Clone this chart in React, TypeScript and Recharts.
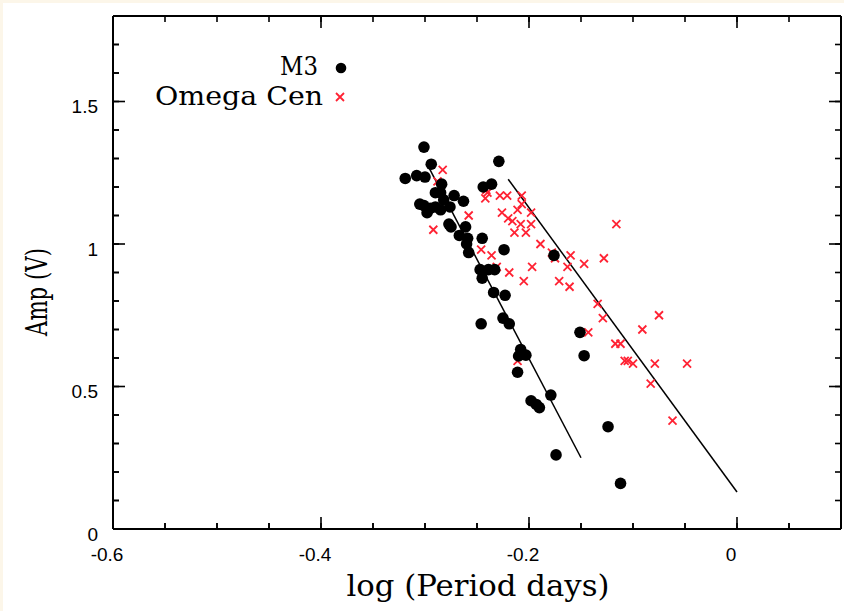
import { ScatterChart, Scatter, XAxis, YAxis, ReferenceLine } from "recharts";

// log(P), amplitude
const m3Points: [number, number][] = [
  [-0.319, 1.23], [-0.308, 1.24], [-0.301, 1.34], [-0.3, 1.235], [-0.294, 1.28],
  [-0.284, 1.21], [-0.29, 1.18], [-0.285, 1.18], [-0.272, 1.17], [-0.282, 1.155],
  [-0.263, 1.15], [-0.305, 1.14], [-0.301, 1.135], [-0.295, 1.125], [-0.29, 1.13],
  [-0.285, 1.12], [-0.298, 1.11], [-0.276, 1.13], [-0.277, 1.07], [-0.275, 1.06],
  [-0.261, 1.06], [-0.267, 1.03], [-0.259, 1.02], [-0.26, 1.0], [-0.258, 0.97],
  [-0.245, 1.02], [-0.224, 0.98], [-0.229, 1.29], [-0.244, 1.2], [-0.236, 1.21],
  [-0.247, 0.91], [-0.239, 0.91], [-0.233, 0.91], [-0.245, 0.88], [-0.234, 0.83],
  [-0.223, 0.82], [-0.246, 0.72], [-0.225, 0.74], [-0.219, 0.72], [-0.208, 0.63],
  [-0.203, 0.61], [-0.21, 0.607], [-0.211, 0.55], [-0.198, 0.45], [-0.193, 0.437],
  [-0.19, 0.426], [-0.179, 0.47], [-0.176, 0.96], [-0.174, 0.26], [-0.151, 0.69],
  [-0.147, 0.608], [-0.124, 0.359], [-0.112, 0.16],
];

const omegaPoints: [number, number][] = [
  [-0.283, 1.26], [-0.288, 1.22], [-0.292, 1.05], [-0.258, 1.1], [-0.241, 1.19],
  [-0.24, 1.18], [-0.242, 1.16], [-0.228, 1.17], [-0.221, 1.17], [-0.207, 1.17],
  [-0.207, 1.14], [-0.211, 1.12], [-0.198, 1.11], [-0.226, 1.11], [-0.22, 1.09],
  [-0.216, 1.08], [-0.208, 1.07], [-0.198, 1.07], [-0.214, 1.04], [-0.203, 1.04],
  [-0.116, 1.07], [-0.189, 1.0], [-0.246, 0.98], [-0.236, 0.96], [-0.231, 0.92],
  [-0.219, 0.9], [-0.205, 0.87], [-0.197, 0.92], [-0.178, 0.97], [-0.175, 0.95],
  [-0.16, 0.96], [-0.163, 0.92], [-0.147, 0.93], [-0.128, 0.95], [-0.171, 0.87],
  [-0.161, 0.85], [-0.134, 0.79], [-0.129, 0.74], [-0.143, 0.69], [-0.075, 0.75],
  [-0.091, 0.7], [-0.117, 0.65], [-0.112, 0.65], [-0.108, 0.59], [-0.105, 0.59],
  [-0.1, 0.58], [-0.079, 0.58], [-0.048, 0.58], [-0.083, 0.51], [-0.062, 0.38],
  [-0.211, 0.59],
];

// straight-line fits (end points)
const m3Fit: [number, number][] = [[-0.298, 1.28], [-0.15, 0.25]];
const omegaFit: [number, number][] = [[-0.22, 1.227], [0, 0.13]];

const xTicks = [-0.6, -0.55, -0.5, -0.45, -0.4, -0.35, -0.3, -0.25, -0.2, -0.15, -0.1, -0.05, 0, 0.05, 0.1];
const xMajor = [-0.6, -0.4, -0.2, 0];
const yTicks = [0, 0.1, 0.2, 0.3, 0.4, 0.5, 0.6, 0.7, 0.8, 0.9, 1, 1.1, 1.2, 1.3, 1.4, 1.5, 1.6, 1.7, 1.8];
const yMajor = [0, 0.5, 1, 1.5];

const legendNames = ["M3", "Omega Cen"];
const xTitle = "log (Period days)";
const yTitle = "Amp (V)";

const X_DOMAIN = [-0.6, 0.1];
const Y_DOMAIN = [0, 1.8];
// plot box, as set by the chart margins and axis sizes below
const PLOT = { left: 113, top: 16, width: 728, height: 513 };
const MINOR = 6;
const MAJOR = 12;
const xMajorLen = (MAJOR * (X_DOMAIN[1] - X_DOMAIN[0])) / PLOT.width;
const yMajorLen = (MAJOR * (Y_DOMAIN[1] - Y_DOMAIN[0])) / PLOT.height;
// used only for the inner tick marks of the bottom/left frame
const px = (v: number) => PLOT.left + ((v - X_DOMAIN[0]) / (X_DOMAIN[1] - X_DOMAIN[0])) * PLOT.width;
const py = (v: number) => PLOT.top + PLOT.height - ((v - Y_DOMAIN[0]) / (Y_DOMAIN[1] - Y_DOMAIN[0])) * PLOT.height;

const RED = "#ff2233";
const SANS = "'Liberation Sans', Arial, sans-serif";
const SERIF = "'DejaVu Serif', serif";

const toXY = (p: [number, number][]) => p.map(([x, y]) => ({ x, y }));
const near = (list: number[], v: number) => list.some((m) => Math.abs(m - v) < 1e-6);

const Blank = () => <g />;

const Dot = (props: any) => <circle cx={props.cx} cy={props.cy} r={5.8} fill="#000" />;

const Cross = (props: any) => {
  const { cx, cy } = props;
  const s = 4;
  return (
    <path
      d={`M${cx - s},${cy - s}L${cx + s},${cy + s}M${cx - s},${cy + s}L${cx + s},${cy - s}`}
      stroke={RED}
      strokeWidth={1.8}
      fill="none"
    />
  );
};

const frame = { stroke: "#000", strokeWidth: 2 };
const tickLine = { stroke: "#000", strokeWidth: 1.6 };
const tickFont = { fontSize: 19, fontFamily: SANS, fill: "#000" };

export default function App() {
  return (
    <div style={{ position: "absolute", left: 0, top: 0, width: 844, height: 611, background: "#fff" }}>
      <svg width={844} height={611} style={{ position: "absolute", left: 0, top: 0 }}>
        <rect x={0} y={0} width={844} height={3} fill="#fcf6e9" />
        <rect x={0} y={0} width={3} height={611} fill="#fcf6e9" />
      </svg>
      <ScatterChart width={844} height={611} margin={{ top: 15, right: 2, bottom: 0, left: 0 }}>
        <XAxis
          type="number"
          dataKey="x"
          domain={X_DOMAIN}
          ticks={xTicks}
          interval={0}
          allowDataOverflow
          height={82}
          tickSize={-MINOR}
          tickMargin={24.5}
          tickLine={tickLine}
          tick={{ ...tickFont, dx: -6 }}
          tickFormatter={(v: number) => (near(xMajor, v) ? String(v) : "")}
          axisLine={frame}
        />
        <XAxis
          xAxisId="top"
          orientation="top"
          type="number"
          dataKey="x"
          domain={X_DOMAIN}
          ticks={xTicks}
          interval={0}
          allowDataOverflow
          height={1}
          tickSize={-MINOR}
          tickMargin={0}
          tickLine={tickLine}
          tick={<Blank />}
          axisLine={frame}
        />
        <YAxis
          type="number"
          dataKey="y"
          domain={Y_DOMAIN}
          ticks={yTicks}
          interval={0}
          allowDataOverflow
          width={113}
          tickSize={-MINOR}
          tickMargin={21}
          tickLine={tickLine}
          tick={{ ...tickFont, dy: 5 }}
          tickFormatter={(v: number) => (near(yMajor, v) ? String(v) : "")}
          axisLine={frame}
        />
        <YAxis
          yAxisId="right"
          orientation="right"
          type="number"
          dataKey="y"
          domain={Y_DOMAIN}
          ticks={yTicks}
          interval={0}
          allowDataOverflow
          width={1}
          tickSize={-MINOR}
          tickMargin={0}
          tickLine={tickLine}
          tick={<Blank />}
          axisLine={frame}
        />

        {xMajor.map((v) => (
          <ReferenceLine key={`xt${v}`} segment={[{ x: v, y: Y_DOMAIN[1] }, { x: v, y: Y_DOMAIN[1] - yMajorLen }]} ifOverflow="visible" {...tickLine} />
        ))}
        {yMajor.map((v) => (
          <ReferenceLine key={`yr${v}`} segment={[{ x: X_DOMAIN[1], y: v }, { x: X_DOMAIN[1] - xMajorLen, y: v }]} ifOverflow="visible" {...tickLine} />
        ))}

        <Scatter data={toXY(m3Fit)} line={{ stroke: "#000", strokeWidth: 1.5 }} shape={Blank} isAnimationActive={false} />
        <Scatter data={toXY(omegaFit)} line={{ stroke: "#000", strokeWidth: 1.5 }} shape={Blank} isAnimationActive={false} />
        <Scatter name={legendNames[1]} data={toXY(omegaPoints)} shape={Cross} isAnimationActive={false} />
        <Scatter name={legendNames[0]} data={toXY(m3Points)} shape={Dot} isAnimationActive={false} />
      </ScatterChart>
      <svg width={844} height={611} style={{ position: "absolute", left: 0, top: 0, pointerEvents: "none" }}>
        {xTicks.map((v) => (
          <line key={`bx${v}`} x1={px(v)} x2={px(v)} y1={py(Y_DOMAIN[0])} y2={py(Y_DOMAIN[0]) - (near(xMajor, v) ? MAJOR : MINOR)} {...tickLine} />
        ))}
        {yTicks.map((v) => (
          <line key={`ly${v}`} x1={px(X_DOMAIN[0])} x2={px(X_DOMAIN[0]) + (near(yMajor, v) ? MAJOR : MINOR)} y1={py(v)} y2={py(v)} {...tickLine} />
        ))}
        <text x={478} y={596} textAnchor="middle" fontFamily={SERIF} fontSize={29} fill="#000" textLength={263} lengthAdjust="spacingAndGlyphs">
          {xTitle}
        </text>
        <text
          transform="translate(47, 292) rotate(-90)"
          textAnchor="middle"
          fontFamily={SERIF}
          fontSize={29}
          fill="#000"
          textLength={88}
          lengthAdjust="spacingAndGlyphs"
        >
          {yTitle}
        </text>
        <text x={318} y={75} textAnchor="end" fontFamily={SERIF} fontSize={26} fill="#000" textLength={38} lengthAdjust="spacingAndGlyphs">
          {legendNames[0]}
        </text>
        <circle cx={341} cy={68} r={5.3} fill="#000" />
        <text x={323} y={105} textAnchor="end" fontFamily={SERIF} fontSize={26} fill="#000" textLength={168} lengthAdjust="spacingAndGlyphs">
          {legendNames[1]}
        </text>
        <Cross cx={340} cy={97} />
      </svg>
    </div>
  );
}
